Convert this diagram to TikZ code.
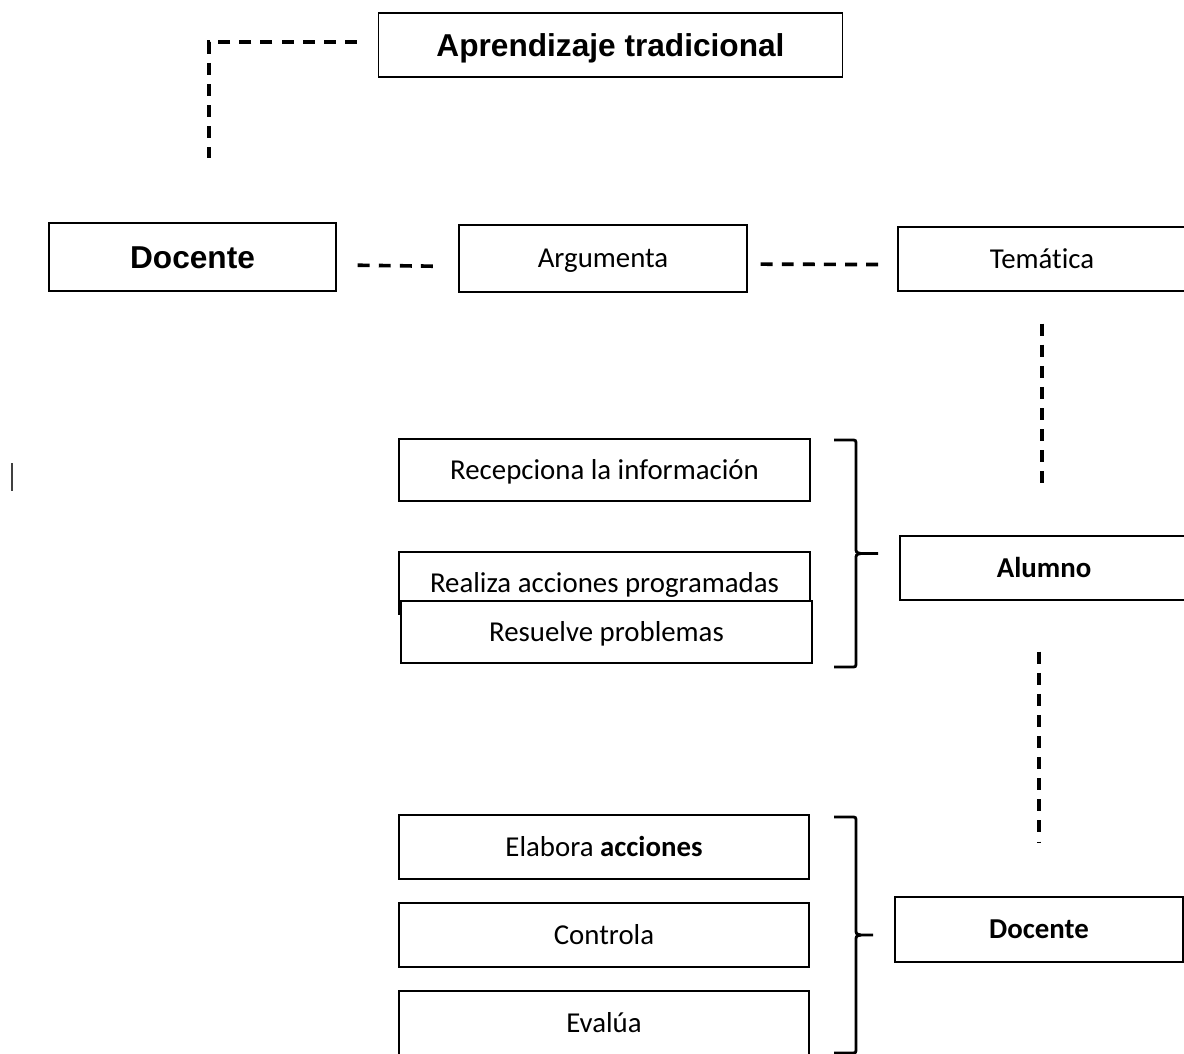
\documentclass[tikz,border=0pt]{standalone}
\usepackage{fontspec}
\setmainfont{Carlito}[Ligatures=NoCommon]
\newfontfamily\arialfont{Liberation Sans}
\usetikzlibrary{calc}
\tikzset{
	caja/.style={draw, line width=0.9pt, fill=white, inner sep=0pt, text height=13.2pt, text depth=0pt, font=\fontsize{20.5}{24}\selectfont},
	cajaarial/.style={caja, text height=16.1pt, font=\arialfont\bfseries\fontsize{22.5}{26}\selectfont},
	guion/.style={line width=2.6pt, dash pattern=on 8.5pt off 6.5pt},
}
% #1 = x del brazo, #2 = y arriba, #3 = y abajo, #4 = x de la punta
\def\llave(#1,#2,#3,#4){%
	\pgfmathsetmacro{\ym}{(#2+#3)/2}
	\draw[line width=2pt] (#1-22, #2) -- (#1-5, #2) .. controls (#1, #2) .. (#1, #2+5) -- (#1, \ym-6) .. controls (#1, \ym-1) .. (#1+5, \ym) -- (#4, \ym);
	\draw[line width=2pt] (#1+5, \ym) .. controls (#1, \ym+1) .. (#1, \ym+6) -- (#1, #3-5) .. controls (#1, #3) .. (#1-5, #3) -- (#1-22, #3);
}

\begin{document}
\begin{tikzpicture}[x=0.025cm, y=-0.025cm]
		%%%%% START %%%%%
		\useasboundingbox (0, 0) rectangle (1184, 1053);
		
		\node[cajaarial, minimum width=11.6cm, minimum height=1.6cm] (aprendizaje) at (610.5, 45) {Aprendizaje tradicional};
		\coordinate (finAprendizaje) at (209, 158);
		\draw[guion, shorten <=0.525cm] ([yshift=0.075cm]aprendizaje.west) -| (finAprendizaje);
		
		\node[cajaarial, minimum width=7.175cm, minimum height=1.7cm] (docenteA) at (192.5, 257) {Docente};
		\node[caja, minimum width=7.2cm, minimum height=1.675cm] (argumenta) at (603, 258.5) {Argumenta};
		\node[caja, minimum width=7.2cm, minimum height=1.6cm] (tematica) at (1042, 259) {Temática};
		
		\draw[guion, shorten <=0.525cm, shorten >=0.6cm] ([yshift=-0.2cm]docenteA.east) -- ([yshift=-0.2cm]argumenta.west);
		\draw[guion, shorten <=0.325cm, shorten >=0.275cm] ([yshift=-0.14cm]argumenta.east) -- ([yshift=-0.14cm]tematica.west);
		
		\draw[line width=0.9pt, color=black!75] (12, 463) -- (12, 491);
		
		\node[caja, minimum width=10.275cm, minimum height=1.55cm] (recepciona) at (604.5, 470) {Recepciona la información};
		\node[caja, minimum width=10.275cm, minimum height=1.55cm] (realiza) at (604.5, 583) {Realiza acciones programadas};
		\node[caja, minimum width=10.275cm, minimum height=1.55cm] (resuelve) at (606.5, 632) {Resuelve problemas};
		\llave(856, 440, 667, 878)
		
		\node[caja, minimum width=7.2cm, minimum height=1.6cm] (alumno) at (1044, 568) {\bfseries Alumno};
		\draw[guion, shorten <=0.8cm, shorten >=1.15cm] (tematica.south) -- (tematica.south |- alumno.north);
		
		\node[caja, minimum width=10.25cm, minimum height=1.6cm] (elabora) at (604, 847) {Elabora \textbf{acciones}};
		\node[caja, minimum width=10.25cm, minimum height=1.6cm] (controla) at (604, 935) {Controla};
		\node[caja, minimum width=10.25cm, minimum height=1.6cm] (evalua) at (604, 1023) {Evalúa};
		\llave(856, 817, 1053, 873)
		
		\node[caja, minimum width=7.2cm, minimum height=1.625cm] (docenteB) at (1039, 929.5) {\bfseries Docente};
		\draw[guion, shorten <=1.275cm, shorten >=1.35cm] (docenteB.north |- alumno.south) -- (docenteB.north);
		
		%%%%% END %%%%%
	\end{tikzpicture}
\end{document}
